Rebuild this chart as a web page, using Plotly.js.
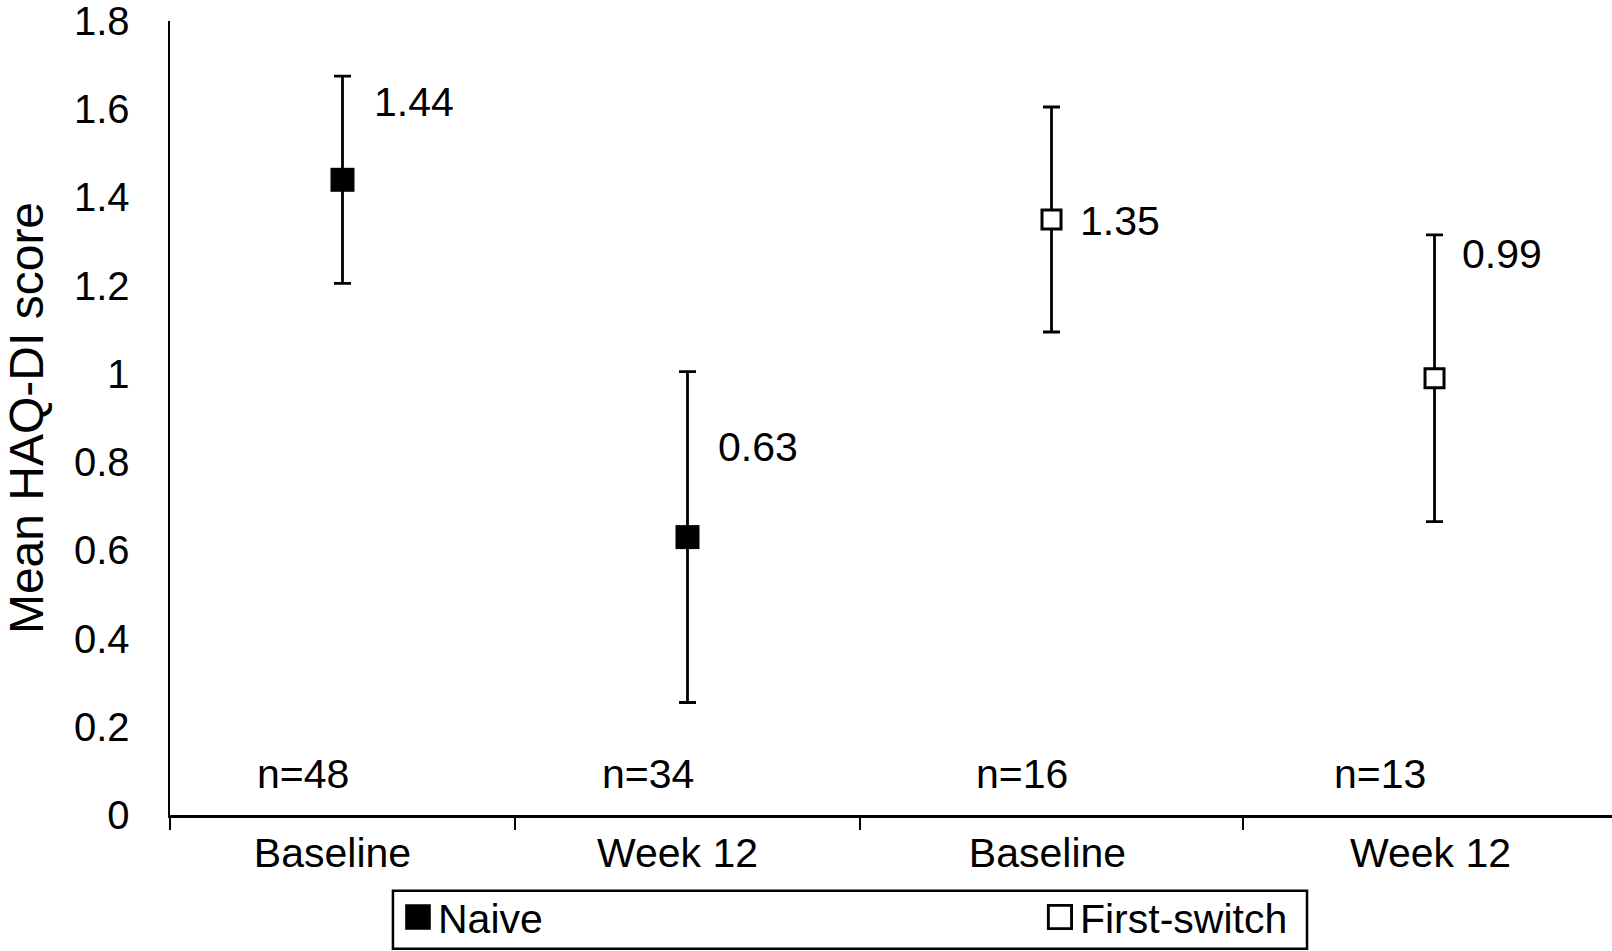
<!DOCTYPE html>
<html>
<head>
<meta charset="utf-8">
<script src="https://cdn.plot.ly/plotly-3.0.1.min.js"></script>
<style>
  html, body { margin: 0; padding: 0; background: #ffffff; }
  #chart { width: 1612px; height: 951px; }
</style>
</head>
<body>
<div id="chart"></div>
<script>
// ---- data ----
const timepoints = ['Baseline', 'Week 12'];
const naiveMean = [1.44, 0.63];
const naiveErr = [0.235, 0.375];
const naiveN = [48, 34];
const switchMean = [1.35, 0.99];
const switchErr = [0.255, 0.325];
const switchN = [16, 13];
const yTickVals = [0, 0.2, 0.4, 0.6, 0.8, 1, 1.2, 1.4, 1.6, 1.8];
const yTickText = ['0', '0.2', '0.4', '0.6', '0.8', '1', '1.2', '1.4', '1.6', '1.8'];

// ---- label placement (style only) ----
const naiveLabelShift = [{dx: 29, dy: 78}, {dx: 28, dy: 90}];
const switchLabelShift = [{dx: 26, dy: -1}, {dx: 25, dy: 124}];
const naiveNShift = [-40, -40];
const switchNShift = [-30, -55];

const FONT = 'Liberation Sans, Arial, Helvetica, sans-serif';
const TXT = 41;

const traces = [
  {
    name: 'Naive',
    type: 'scatter', mode: 'markers',
    x: timepoints, y: naiveMean, xaxis: 'x', yaxis: 'y',
    legend: 'legend',
    marker: {symbol: 'square', size: 24, color: '#000000', line: {width: 0}},
    error_y: {type: 'data', array: naiveErr, visible: true, color: '#000000', thickness: 2.8, width: 8.5}
  },
  {
    name: 'First-switch',
    type: 'scatter', mode: 'markers',
    x: timepoints, y: switchMean, xaxis: 'x2', yaxis: 'y',
    legend: 'legend2',
    marker: {symbol: 'square', size: 19, color: '#ffffff', line: {width: 3, color: '#000000'}},
    error_y: {type: 'data', array: switchErr, visible: true, color: '#000000', thickness: 2.8, width: 8.5}
  }
];

const annotations = [];
function addLabels(xref, means, ns, shifts, nShifts) {
  means.forEach((v, i) => {
    annotations.push({
      xref: xref, yref: 'y', x: timepoints[i], y: v,
      text: v.toFixed(2), showarrow: false,
      xanchor: 'left', yanchor: 'middle',
      xshift: shifts[i].dx, yshift: shifts[i].dy,
      font: {family: FONT, size: TXT, color: '#000000'}
    });
    annotations.push({
      xref: xref, yref: 'y', x: timepoints[i], y: 0,
      text: 'n=' + ns[i], showarrow: false,
      xanchor: 'center', yanchor: 'middle',
      xshift: nShifts[i], yshift: 41,
      font: {family: FONT, size: TXT, color: '#000000'}
    });
  });
}
addLabels('x', naiveMean, naiveN, naiveLabelShift, naiveNShift);
addLabels('x2', switchMean, switchN, switchLabelShift, switchNShift);

const xAxisCommon = {
  type: 'category',
  showline: true, linecolor: '#000000', linewidth: 2.5,
  ticks: 'outside', ticklen: 12, tickwidth: 2.5, tickcolor: '#000000',
  tickson: 'boundaries',
  showgrid: false, zeroline: false, automargin: false,
  tickfont: {family: FONT, size: TXT, color: '#000000'},
  fixedrange: true
};

const legendCommon = {
  orientation: 'h',
  xref: 'paper', yref: 'paper', xanchor: 'left', yanchor: 'top',
  y: -0.0867,
  borderwidth: 0, bgcolor: 'rgba(0,0,0,0)',
  font: {family: FONT, size: TXT, color: '#000000'},
  itemwidth: 30
};

const layout = {
  width: 1612, height: 951,
  margin: {l: 170, r: 0, t: 21, b: 134},
  paper_bgcolor: '#ffffff', plot_bgcolor: '#ffffff',
  showlegend: true,
  hovermode: false,
  font: {family: FONT, color: '#000000'},
  xaxis: Object.assign({}, xAxisCommon, {
    domain: [0, 0.4785], anchor: 'y', range: [-0.5, 1.5],
    ticklabelshift: -10,
    categoryorder: 'array', categoryarray: timepoints
  }),
  xaxis2: Object.assign({}, xAxisCommon, {
    domain: [0.4785, 1], anchor: 'y', range: [-0.5, 1.4634],
    ticklabelshift: -4,
    categoryorder: 'array', categoryarray: timepoints
  }),
  yaxis: {
    range: [0, 1.8],
    tickvals: yTickVals, ticktext: yTickText,
    showline: true, linecolor: '#000000', linewidth: 2.5,
    ticks: '', showgrid: false, zeroline: false, automargin: false,
    ticklabelstandoff: 30,
    ticklabeloverflow: 'allow',
    tickfont: {family: FONT, size: 40, color: '#000000'},
    title: {text: 'Mean HAQ-DI score', font: {family: FONT, size: 48, color: '#000000'}, standoff: 15},
    fixedrange: true
  },
  legend: Object.assign({}, legendCommon, {x: 0.1581}),
  legend2: Object.assign({}, legendCommon, {x: 0.6033}),
  shapes: [{
    type: 'rect', xref: 'paper', yref: 'paper',
    x0: 0.1546, x1: 0.7885, y0: -0.1683, y1: -0.0955,
    line: {color: '#000000', width: 2.5}, fillcolor: 'rgba(0,0,0,0)', layer: 'above'
  }],
  annotations: annotations
};

Plotly.newPlot('chart', traces, layout, {displayModeBar: false, staticPlot: true}).then(function (gd) {
  // enlarge legend symbols to match the reference's legend key size
  gd.querySelectorAll('.legendpoints path.scatterpts').forEach(function (p) {
    const t = p.getAttribute('transform') || '';
    const isOpen = p.style.fill && p.style.fill.indexOf('255') >= 0;
    if (isOpen) {
      p.style.strokeWidth = '2px';
      p.setAttribute('transform', t + ' scale(1.45)');
    } else {
      p.setAttribute('transform', t + ' scale(1.6)');
    }
  });
});
</script>
</body>
</html>
